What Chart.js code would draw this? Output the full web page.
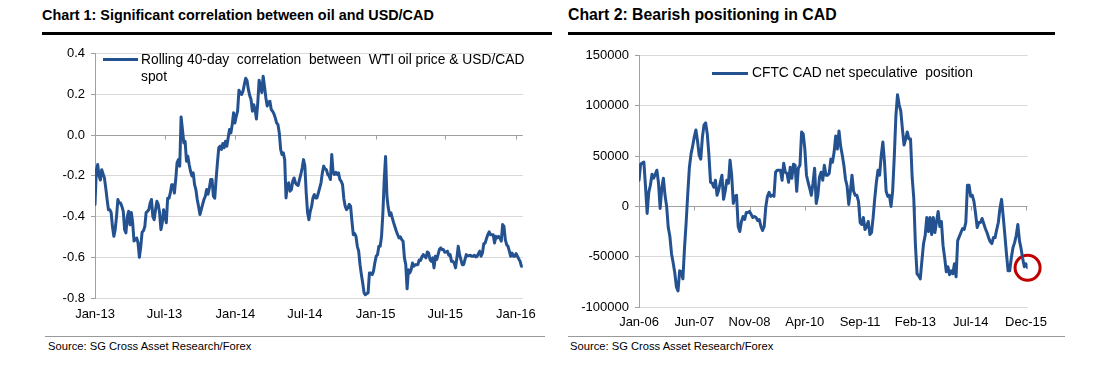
<!DOCTYPE html>
<html>
<head>
<meta charset="utf-8">
<script src="https://cdn.jsdelivr.net/npm/chart.js@4/dist/chart.umd.min.js"></script>
<style>
  html, body { margin:0; padding:0; background:#fff; }
  body { width:1093px; height:383px; position:relative; overflow:hidden; font-family:"Liberation Sans", Arial, sans-serif; color:#000; }
  .abs { position:absolute; }
  .title { font-weight:bold; font-size:14.4px; line-height:16px; white-space:nowrap; }
  .rule { background:#000; height:3px; }
  .sep { background:#999; height:1px; }
  .src { font-size:11.2px; line-height:12px; white-space:nowrap; }
  .leg { font-size:13.8px; line-height:17px; white-space:pre; }
  .swatch { background:#245290; height:3px; }
  canvas { position:absolute; }
</style>
</head>
<body>
<div class="abs title" style="left:42px;top:7px;">Chart 1: Significant correlation between oil and USD/CAD</div>
<div class="abs rule" style="left:42px;top:32px;width:510px;"></div>
<div class="abs title" style="left:568px;top:7px;font-size:15.8px;">Chart 2: Bearish positioning in CAD</div>
<div class="abs rule" style="left:568px;top:32px;width:487px;"></div>

<canvas id="c1" width="545" height="290" style="left:0px;top:40px;"></canvas>
<canvas id="c2" width="510" height="290" style="left:545px;top:40px;"></canvas>

<div class="abs swatch" style="left:103px;top:58px;width:35px;"></div>
<div class="abs leg" style="left:141px;top:51px;">Rolling 40-day  correlation  between  WTI oil price &amp; USD/CAD
spot</div>
<div class="abs swatch" style="left:712px;top:72px;width:36px;"></div>
<div class="abs leg" style="left:752px;top:64px;">CFTC CAD net speculative  position</div>

<div class="abs sep" style="left:45px;top:336px;width:500px;"></div>
<div class="abs src" style="left:48px;top:340px;">Source: SG Cross Asset Research/Forex</div>
<div class="abs sep" style="left:568px;top:336px;width:497px;"></div>
<div class="abs src" style="left:570px;top:340px;">Source: SG Cross Asset Research/Forex</div>

<script>
// ---------------- Chart 1 data: rolling 40-day correlation, twice-weekly observations from 1 Jan 2013 ----------------
const corrStepDays = 3.5;
const corrValues = [
 -0.34,-0.172, -0.144,-0.2, -0.22,-0.17, -0.19,-0.21, -0.26,-0.316,
 -0.366,-0.366, -0.38,-0.45, -0.497,-0.464, -0.40,-0.316, -0.333,-0.333,
 -0.35,-0.374, -0.464,-0.48, -0.40,-0.374, -0.44,-0.38, -0.43,-0.52,
 -0.513,-0.505, -0.53,-0.6, -0.55,-0.477, -0.47,-0.45, -0.38,-0.374,
 -0.366,-0.333, -0.316,-0.4, -0.415,-0.366, -0.325,-0.34, -0.38,-0.464,
 -0.43,-0.366, -0.40,-0.43, -0.31,-0.31, -0.284,-0.243, -0.243,-0.284,
 -0.218,-0.136, -0.12,-0.152, 0.09,0.028, -0.038,-0.03, -0.128,-0.103,
 -0.144,-0.177, -0.2,-0.185, -0.243,-0.267, -0.316,-0.35, -0.39,-0.366,
 -0.34,-0.316, -0.30,-0.267, -0.29,-0.26, -0.218,-0.218, -0.30,-0.31,
 -0.218,-0.136, -0.062,-0.054, -0.07,-0.041, -0.062,-0.03, -0.054,-0.013,
 0.028,0.011, 0.052,0.11, 0.06,0.093, 0.118,0.221, 0.208,0.2,
 0.216,0.249, 0.28,0.269, 0.225,0.195, 0.175,0.118, 0.15,0.126,
 0.08,0.159, 0.27,0.241, 0.21,0.29, 0.24,0.184, 0.143,0.162,
 0.167,0.126, 0.118,0.105, 0.085,0.061, 0.052,0.011, -0.07,-0.095,
 -0.087,-0.12, -0.308,-0.243, -0.234,-0.275, -0.267,-0.226, -0.21,-0.234,
 -0.243,-0.247, -0.218,-0.193, -0.16,-0.12, -0.152,-0.284, -0.38,-0.415,
 -0.374,-0.35, -0.308,-0.292, -0.308,-0.308, -0.284,-0.26, -0.234,-0.185,
 -0.152,-0.166, -0.169,-0.193, -0.2,-0.218, -0.095,-0.185, -0.193,-0.182,
 -0.193,-0.185, -0.218,-0.226, -0.243,-0.313, -0.35,-0.366, -0.357,-0.34,
 -0.35,-0.423, -0.489,-0.484, -0.497,-0.546, -0.57,-0.636, -0.685,-0.726,
 -0.775,-0.784, -0.778,-0.775, -0.677,-0.677, -0.685,-0.669, -0.628,-0.595,
 -0.587,-0.546, -0.546,-0.497, -0.382,-0.218, -0.105,-0.3, -0.357,-0.395,
 -0.382,-0.407, -0.43,-0.451, -0.472,-0.489, -0.505,-0.5, -0.513,-0.521,
 -0.603,-0.636, -0.755,-0.661, -0.677,-0.661, -0.628,-0.644, -0.636,-0.636,
 -0.636,-0.613, -0.615,-0.598, -0.587,-0.595, -0.603,-0.574, -0.579,-0.611,
 -0.62,-0.603, -0.652,-0.595, -0.611,-0.587, -0.562,-0.554, -0.562,-0.562,
 -0.575,-0.574, -0.57,-0.59, -0.587,-0.62, -0.62,-0.628, -0.652,-0.603,
 -0.546,-0.587, -0.611,-0.636, -0.636,-0.611, -0.587,-0.592, -0.592,-0.59,
 -0.595,-0.595, -0.59,-0.598, -0.595,-0.582, -0.57,-0.595, -0.579,-0.533,
 -0.53,-0.508, -0.489,-0.475, -0.489,-0.489, -0.489,-0.53, -0.497,-0.505,
 -0.497,-0.505, -0.521,-0.439, -0.448,-0.513, -0.538,-0.546, -0.57,-0.595,
 -0.579,-0.595, -0.595,-0.582, -0.595,-0.608, -0.62,-0.644, -0.644
];
const corrTickDays   = [0, 181, 365, 546, 730, 911, 1095];
const corrTickLabels = ['Jan-13','Jul-13','Jan-14','Jul-14','Jan-15','Jul-15','Jan-16'];
const corrLegend = 'Rolling 40-day correlation between WTI oil price & USD/CAD spot';

// ---------------- Chart 2 data: CFTC CAD net speculative position, semi-monthly from Jan 2006 ----------------
const cftcStepMonths = 0.5;
const cftcValues = [
 26000,42000,43000,44000,20000,-7000,14000,21000,32000,28000,
 32000,36000,23000,-2000,18000,28000,11000,0,-21000,-30000,
 -47000,-56000,-66000,-80000,-84000,-64000,-65000,-72000,-41000,-16000,
 13000,39000,52000,60000,69000,76000,65000,51000,47000,69000,
 81000,83000,72000,51000,24000,23000,19000,26000,11000,16000,
 24000,31000,7000,15000,26000,23000,46000,31000,3000,10000,
 11000,-20000,-25000,-15000,-10000,-13000,-6000,-6000,-5000,-8000,
 -11000,-10000,-11000,-14000,-13000,-20000,-24000,-20000,0,10000,
 14000,10000,11000,10000,34000,36000,36000,36000,26000,43000,
 34000,33000,24000,39000,28000,42000,41000,15000,38000,41000,
 74000,72000,57000,31000,24000,18000,11000,23000,38000,3000,
 11000,29000,34000,26000,41000,31000,31000,33000,47000,44000,
 54000,70000,57000,75000,60000,51000,41000,27000,20000,2000,
 15000,31000,15000,11000,11000,5000,-16000,-18000,-11000,-23000,
 -20000,-15000,-28000,-26000,-11000,8000,24000,36000,31000,51000,
 64000,44000,15000,10000,11000,0,15000,49000,90000,111000,
 101000,95000,77000,61000,67000,74000,67000,67000,29000,8000,
 -38000,-67000,-69000,-72000,-54000,-37000,-29000,-11000,-25000,-11000,
 -28000,-11000,-26000,-15000,-5000,-20000,-15000,-39000,-51000,-65000,
 -60000,-68000,-64000,-67000,-57000,-70000,-34000,-30000,-26000,-22000,
 -23000,-16000,21000,21000,10000,11000,5000,-7000,-21000,-16000,
 -16000,-12000,-17000,-22000,-26000,-31000,-35000,-37000,-31000,-31000,
 -23000,-16000,-2000,7000,-10000,-28000,-47000,-64000,-64000,-51000,
 -41000,-36000,-29000,-18000,-34000,-42000,-52000,-60000,-57000,-61000
];
const cftcTickMonths = [0, 17, 34, 51, 68, 85, 102, 119];
const cftcTickLabels = ['Jan-06','Jun-07','Nov-08','Apr-10','Sep-11','Feb-13','Jul-14','Dec-15'];
const cftcLegend = 'CFTC CAD net speculative position';

// ---------------- styling ----------------
const LINE = '#245290';
const GRID = '#d9d9d9';
const AXIS = '#a0a0a0';
const FONT = { family: '"Liberation Sans", Arial, sans-serif', size: 13 };

const zeroTicks = {
  id: 'zeroTicks',
  beforeDatasetsDraw(chart) {
    const { ctx, scales: { x, y } } = chart;
    const y0 = Math.round(y.getPixelForValue(0)) + 0.5;
    ctx.save();
    ctx.strokeStyle = AXIS; ctx.lineWidth = 1;
    x.ticks.forEach(t => {
      const px = Math.round(x.getPixelForValue(t.value)) + 0.5;
      ctx.beginPath(); ctx.moveTo(px, y0); ctx.lineTo(px, y0 + 4); ctx.stroke();
    });
    ctx.restore();
  }
};

function makeChart(id, opts) {
  const pts = opts.values.map((v, i) => ({ x: i * opts.step, y: v }));
  const datasets = [{
    label: opts.legend, data: pts, borderColor: LINE, borderWidth: 3,
    pointRadius: 0, tension: 0, fill: false, borderJoinStyle: 'round', borderCapStyle: 'round'
  }];
  if (opts.highlightLast) {
    const last = pts[pts.length - 1];
    datasets.push({
      label: 'highlight', data: [last], showLine: false, clip: false,
      pointRadius: 12.5, pointBorderWidth: 3, pointBorderColor: '#c00000',
      pointBackgroundColor: 'rgba(0,0,0,0)', pointHoverRadius: 12.5
    });
  }
  return new Chart(document.getElementById(id), {
    type: 'line',
    data: { datasets },
    plugins: [zeroTicks],
    options: {
      responsive: false, animation: false, devicePixelRatio: 1,
      events: [],
      layout: { padding: opts.padding },
      plugins: { legend: { display: false }, tooltip: { enabled: false } },
      scales: {
        x: {
          type: 'linear', min: 0, max: opts.xMax,
          afterBuildTicks: (ax) => { ax.ticks = opts.tickPos.map(v => ({ value: v })); },
          afterFit: (ax) => { ax.height = opts.xHeight; },
          grid: { display: false, drawTicks: false },
          border: { display: false },
          ticks: {
            autoSkip: false, maxRotation: 0, padding: opts.xPad, color: '#000', font: FONT,
            callback: (v) => { const k = opts.tickPos.indexOf(v); return k >= 0 ? opts.tickLabels[k] : ''; }
          }
        },
        y: {
          min: opts.yMin, max: opts.yMax,
          afterFit: (ax) => { ax.width = opts.yWidth; },
          grid: {
            color: (c) => (c.tick && Math.abs(c.tick.value) < 1e-9) ? AXIS : GRID,
            tickColor: AXIS, tickLength: 4, lineWidth: 1
          },
          border: { display: true, color: AXIS, width: 1 },
          ticks: { stepSize: opts.yStep, padding: 6, color: '#000', font: FONT, callback: opts.yFmt }
        }
      }
    }
  });
}

makeChart('c1', {
  values: corrValues, step: corrStepDays, legend: corrLegend,
  xMax: (corrValues.length - 1) * corrStepDays,
  tickPos: corrTickDays, tickLabels: corrTickLabels,
  yMin: -0.8, yMax: 0.4, yStep: 0.2, yFmt: (v) => Number(v).toFixed(1),
  padding: { left: 0, top: 13, right: 15, bottom: 0 },
  yWidth: 95, xHeight: 32, xPad: 9
});

makeChart('c2', {
  values: cftcValues, step: cftcStepMonths, legend: cftcLegend,
  xMax: (cftcValues.length - 1) * cftcStepMonths,
  tickPos: cftcTickMonths, tickLabels: cftcTickLabels,
  yMin: -100000, yMax: 150000, yStep: 50000, yFmt: (v) => String(Math.round(v)),
  padding: { left: 0, top: 11, right: 19, bottom: 0 },
  yWidth: 94, xHeight: 23, xPad: 8, highlightLast: true
});
</script>
</body>
</html>
